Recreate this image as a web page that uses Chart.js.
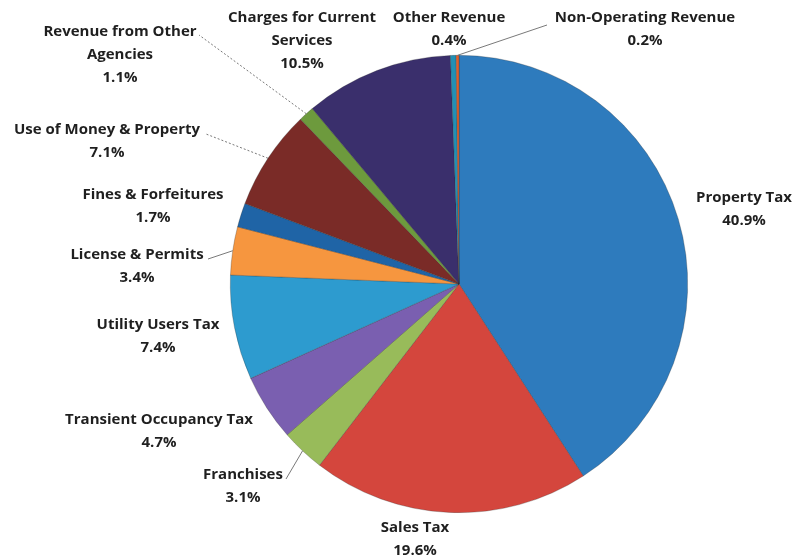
<!DOCTYPE html>
<html>
<head>
<meta charset="utf-8">
<script src="https://cdn.jsdelivr.net/npm/chart.js@4"></script>
<style>
  html, body { margin: 0; padding: 0; background: #fff; }
  canvas { display: block; }
</style>
</head>
<body>
<canvas id="revenueChart" width="795" height="556"></canvas>
<script>
// General fund revenue by source, percent of total
const categories = [
    "Property Tax", "Sales Tax", "Franchises", "Transient Occupancy Tax",
    "Utility Users Tax", "License & Permits", "Fines & Forfeitures",
    "Use of Money & Property", "Revenue from Other Agencies",
    "Charges for Current Services", "Other Revenue", "Non-Operating Revenue"
];
const shares = [40.9, 19.6, 3.1, 4.7, 7.4, 3.4, 1.7, 7.1, 1.1, 10.5, 0.4, 0.2];
const sliceColors = [
    "#2e7bbd", "#d4463d", "#98bb5a", "#7a5fb0",
    "#2d9bcf", "#f6963f", "#1f64a6",
    "#7a2b27", "#6d9a3d",
    "#3a2f6c", "#2290b5", "#e0602c"
];

// label text lines (name split where it wraps)
const labelLines = [
    ["Property Tax"], ["Sales Tax"], ["Franchises"], ["Transient Occupancy Tax"],
    ["Utility Users Tax"], ["License & Permits"], ["Fines & Forfeitures"],
    ["Use of Money & Property"], ["Revenue from Other", "Agencies"],
    ["Charges for Current", "Services"], ["Other Revenue"], ["Non-Operating Revenue"]
];

// where each label sits, plus optional leader line end and style
const labelPlacement = [
    { x: 744, y: 198 },
    { x: 415, y: 528 },
    { x: 243, y: 475, lineTo: [286, 479], dash: [] },
    { x: 159, y: 420 },
    { x: 158, y: 325 },
    { x: 137, y: 255, lineTo: [208, 259], dash: [] },
    { x: 153, y: 195 },
    { x: 107, y: 130, lineTo: [206, 134], dash: [2, 2] },
    { x: 120, y: 32, lineTo: [199, 35], dash: [2, 2] },
    { x: 302, y: 18 },
    { x: 449, y: 18 },
    { x: 645, y: 18, lineTo: [547, 25], dash: [] }
];

const lineHeight = 23;

const pieLabels = {
    id: "pieLabels",
    afterDatasetsDraw(chart) {
        const ctx = chart.ctx;
        const arcs = chart.getDatasetMeta(0).data;
        ctx.save();

        // leader lines from the slice edge out to the label
        arcs.forEach((arc, i) => {
            const p = labelPlacement[i];
            if (!p.lineTo) return;
            const mid = (arc.startAngle + arc.endAngle) / 2;
            const ax = arc.x + Math.cos(mid) * arc.outerRadius;
            const ay = arc.y + Math.sin(mid) * arc.outerRadius;
            ctx.beginPath();
            ctx.setLineDash(p.dash);
            ctx.strokeStyle = "#6a6a6a";
            ctx.lineWidth = 0.9;
            ctx.moveTo(ax, ay);
            ctx.lineTo(p.lineTo[0], p.lineTo[1]);
            ctx.stroke();
        });
        ctx.setLineDash([]);

        ctx.fillStyle = "#1f1f1f";
        ctx.font = "bold 15px 'Open Sans'";
        ctx.textAlign = "center";
        ctx.textBaseline = "middle";
        arcs.forEach((arc, i) => {
            const p = labelPlacement[i];
            const lines = labelLines[i].concat([shares[i].toFixed(1) + "%"]);
            lines.forEach((t, k) => {
                ctx.fillText(t, p.x, p.y + k * lineHeight);
            });
        });
        ctx.restore();
    }
};

new Chart(document.getElementById("revenueChart"), {
    type: "pie",
    data: {
        labels: categories,
        datasets: [{
            data: shares,
            backgroundColor: sliceColors,
            borderColor: "rgba(40,40,40,0.45)",
            borderWidth: 0.6
        }]
    },
    options: {
        responsive: false,
        animation: false,
        layout: {
            padding: { left: 230, right: 107, top: 55, bottom: 43 }
        },
        plugins: {
            legend: { display: false },
            tooltip: { enabled: false }
        }
    },
    plugins: [pieLabels]
});
</script>
</body>
</html>
